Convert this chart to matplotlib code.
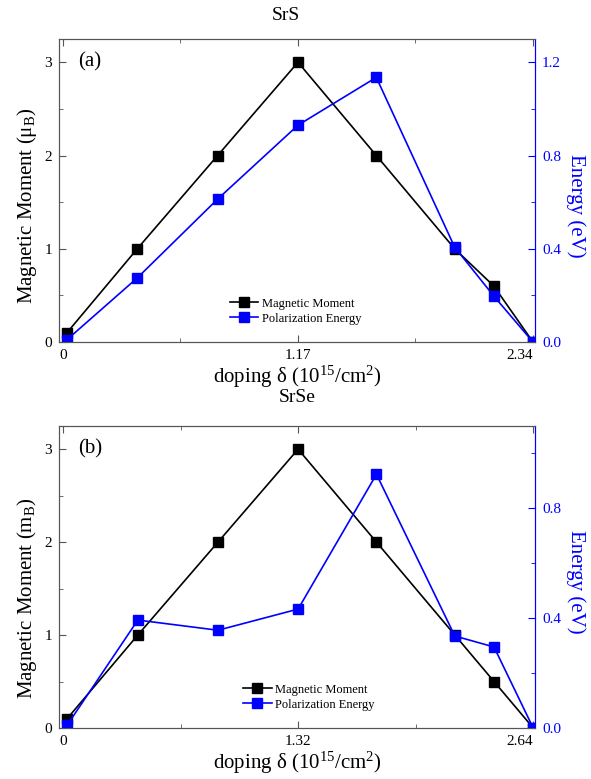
import matplotlib
matplotlib.use('Agg')
import matplotlib.pyplot as plt
from matplotlib.ticker import MultipleLocator, FixedLocator

plt.rcParams['font.family'] = ['Liberation Serif', 'DejaVu Serif']
plt.rcParams['mathtext.fontset'] = 'custom'
plt.rcParams['mathtext.rm'] = 'Liberation Serif'
plt.rcParams['mathtext.it'] = 'Liberation Serif:italic'
plt.rcParams['mathtext.bf'] = 'Liberation Serif:bold'

# SrS panel (a)
srs_doping = [0.02, 0.37, 0.77, 1.17, 1.56, 1.95, 2.145, 2.34]
srs_moment = [0.1, 1.0, 2.0, 3.0, 2.0, 1.0, 0.6, 0.0]
srs_energy = [0.01, 0.275, 0.613, 0.93, 1.135, 0.407, 0.197, 0.0]
srs_xticks = [0, 1.17, 2.34]
srs_xtick_labels = ['0', '1.17', '2.34']

# SrSe panel (b)
srse_doping = [0.023, 0.42, 0.87, 1.32, 1.76, 2.2, 2.42, 2.64]
srse_moment = [0.1, 1.0, 2.0, 3.0, 2.0, 1.0, 0.5, 0.0]
srse_energy = [0.01, 0.393, 0.356, 0.433, 0.924, 0.335, 0.295, 0.0]
srse_xticks = [0, 1.32, 2.64]
srse_xtick_labels = ['0', '1.32', '2.64']

BLUE = '#0000FF'
SPINE = '#555555'


def draw_panel(ax, x, moment, energy, xticks, xlabels, xlim, ylim2,
               title, title_x, title_pad, tag, ylab, ylab_y, elab_y, leg_x):
    ax2 = ax.twinx()
    l1, = ax.plot(x, moment, '-s', color='black', lw=1.2, ms=6.5,
                  label='Magnetic Moment')
    l2, = ax2.plot(x, energy, '-s', color=BLUE, lw=1.2, ms=6.5,
                   label='Polarization Energy')

    ax.set_xlim(*xlim)
    ax.set_ylim(0, 3.25)
    ax2.set_ylim(*ylim2)

    ax.xaxis.set_major_locator(FixedLocator(xticks))
    ax.set_xticklabels(xlabels)
    ax.get_xticklabels()[-1].set_ha('right')
    ax.xaxis.set_minor_locator(FixedLocator([xticks[1] / 2, xticks[1] * 1.5]))
    ax.yaxis.set_major_locator(MultipleLocator(1))
    ax.yaxis.set_minor_locator(MultipleLocator(0.5))
    ax2.yaxis.set_major_locator(MultipleLocator(0.4))
    ax2.yaxis.set_minor_locator(MultipleLocator(0.2))

    ax.tick_params(which='both', direction='in', top=True, right=False,
                   labelsize=11, color=SPINE, pad=5)
    ax.tick_params(which='major', length=5)
    ax.tick_params(which='minor', length=3)
    ax2.tick_params(which='both', direction='in', colors=BLUE, labelsize=11, pad=5)
    ax2.tick_params(which='major', length=5)
    ax2.tick_params(which='minor', length=3)
    ax2.set_yticklabels([f'{v:.1f}' for v in ax2.get_yticks()])

    for s in ['left', 'bottom', 'top']:
        ax.spines[s].set_color(SPINE)
        ax2.spines[s].set_color(SPINE)
    ax2.spines['right'].set_color(BLUE)
    ax.spines['right'].set_color(BLUE)

    ax.set_ylabel(ylab, fontsize=15, labelpad=4)
    ax.yaxis.label.set_y(ylab_y)
    ax2.set_ylabel('Energy (eV)', fontsize=15, color=BLUE, rotation=270, labelpad=18)
    ax2.yaxis.label.set_y(elab_y)
    ax.set_xlabel(r'doping δ (10$^{\mathrm{15}}$/cm$^{\mathrm{2}}$)', fontsize=15, labelpad=1)
    ax.set_title(title, fontsize=14, x=title_x, pad=title_pad)
    ax.text(0.04, 0.925, tag, transform=ax.transAxes, fontsize=15, va='center')

    ax2.legend([l1, l2], ['Magnetic Moment', 'Polarization Energy'],
               loc='lower center', bbox_to_anchor=(leg_x, 0.02), frameon=False,
               fontsize=9, handlelength=2.3, handletextpad=0.3, labelspacing=0.25)


fig = plt.figure(figsize=(5.91, 7.79), dpi=100)
ax_a = fig.add_axes([0.0998, 0.561, 0.8054, 0.389])
ax_b = fig.add_axes([0.0998, 0.0655, 0.8054, 0.3877])

draw_panel(ax_a, srs_doping, srs_moment, srs_energy, srs_xticks, srs_xtick_labels,
           (-0.02, 2.35), (0, 1.3), 'SrS', 0.477, 14, '(a)',
           r'Magnetic Moment (μ$_{\mathrm{B}}$)', 0.45, 0.45, 0.497)
draw_panel(ax_b, srse_doping, srse_moment, srse_energy, srse_xticks, srse_xtick_labels,
           (-0.0226, 2.65), (0, 1.1), 'SrSe', 0.5, 17, '(b)',
           r'Magnetic Moment (m$_{\mathrm{B}}$)', 0.43, 0.483, 0.525)

fig.savefig('out.png', dpi=100)
